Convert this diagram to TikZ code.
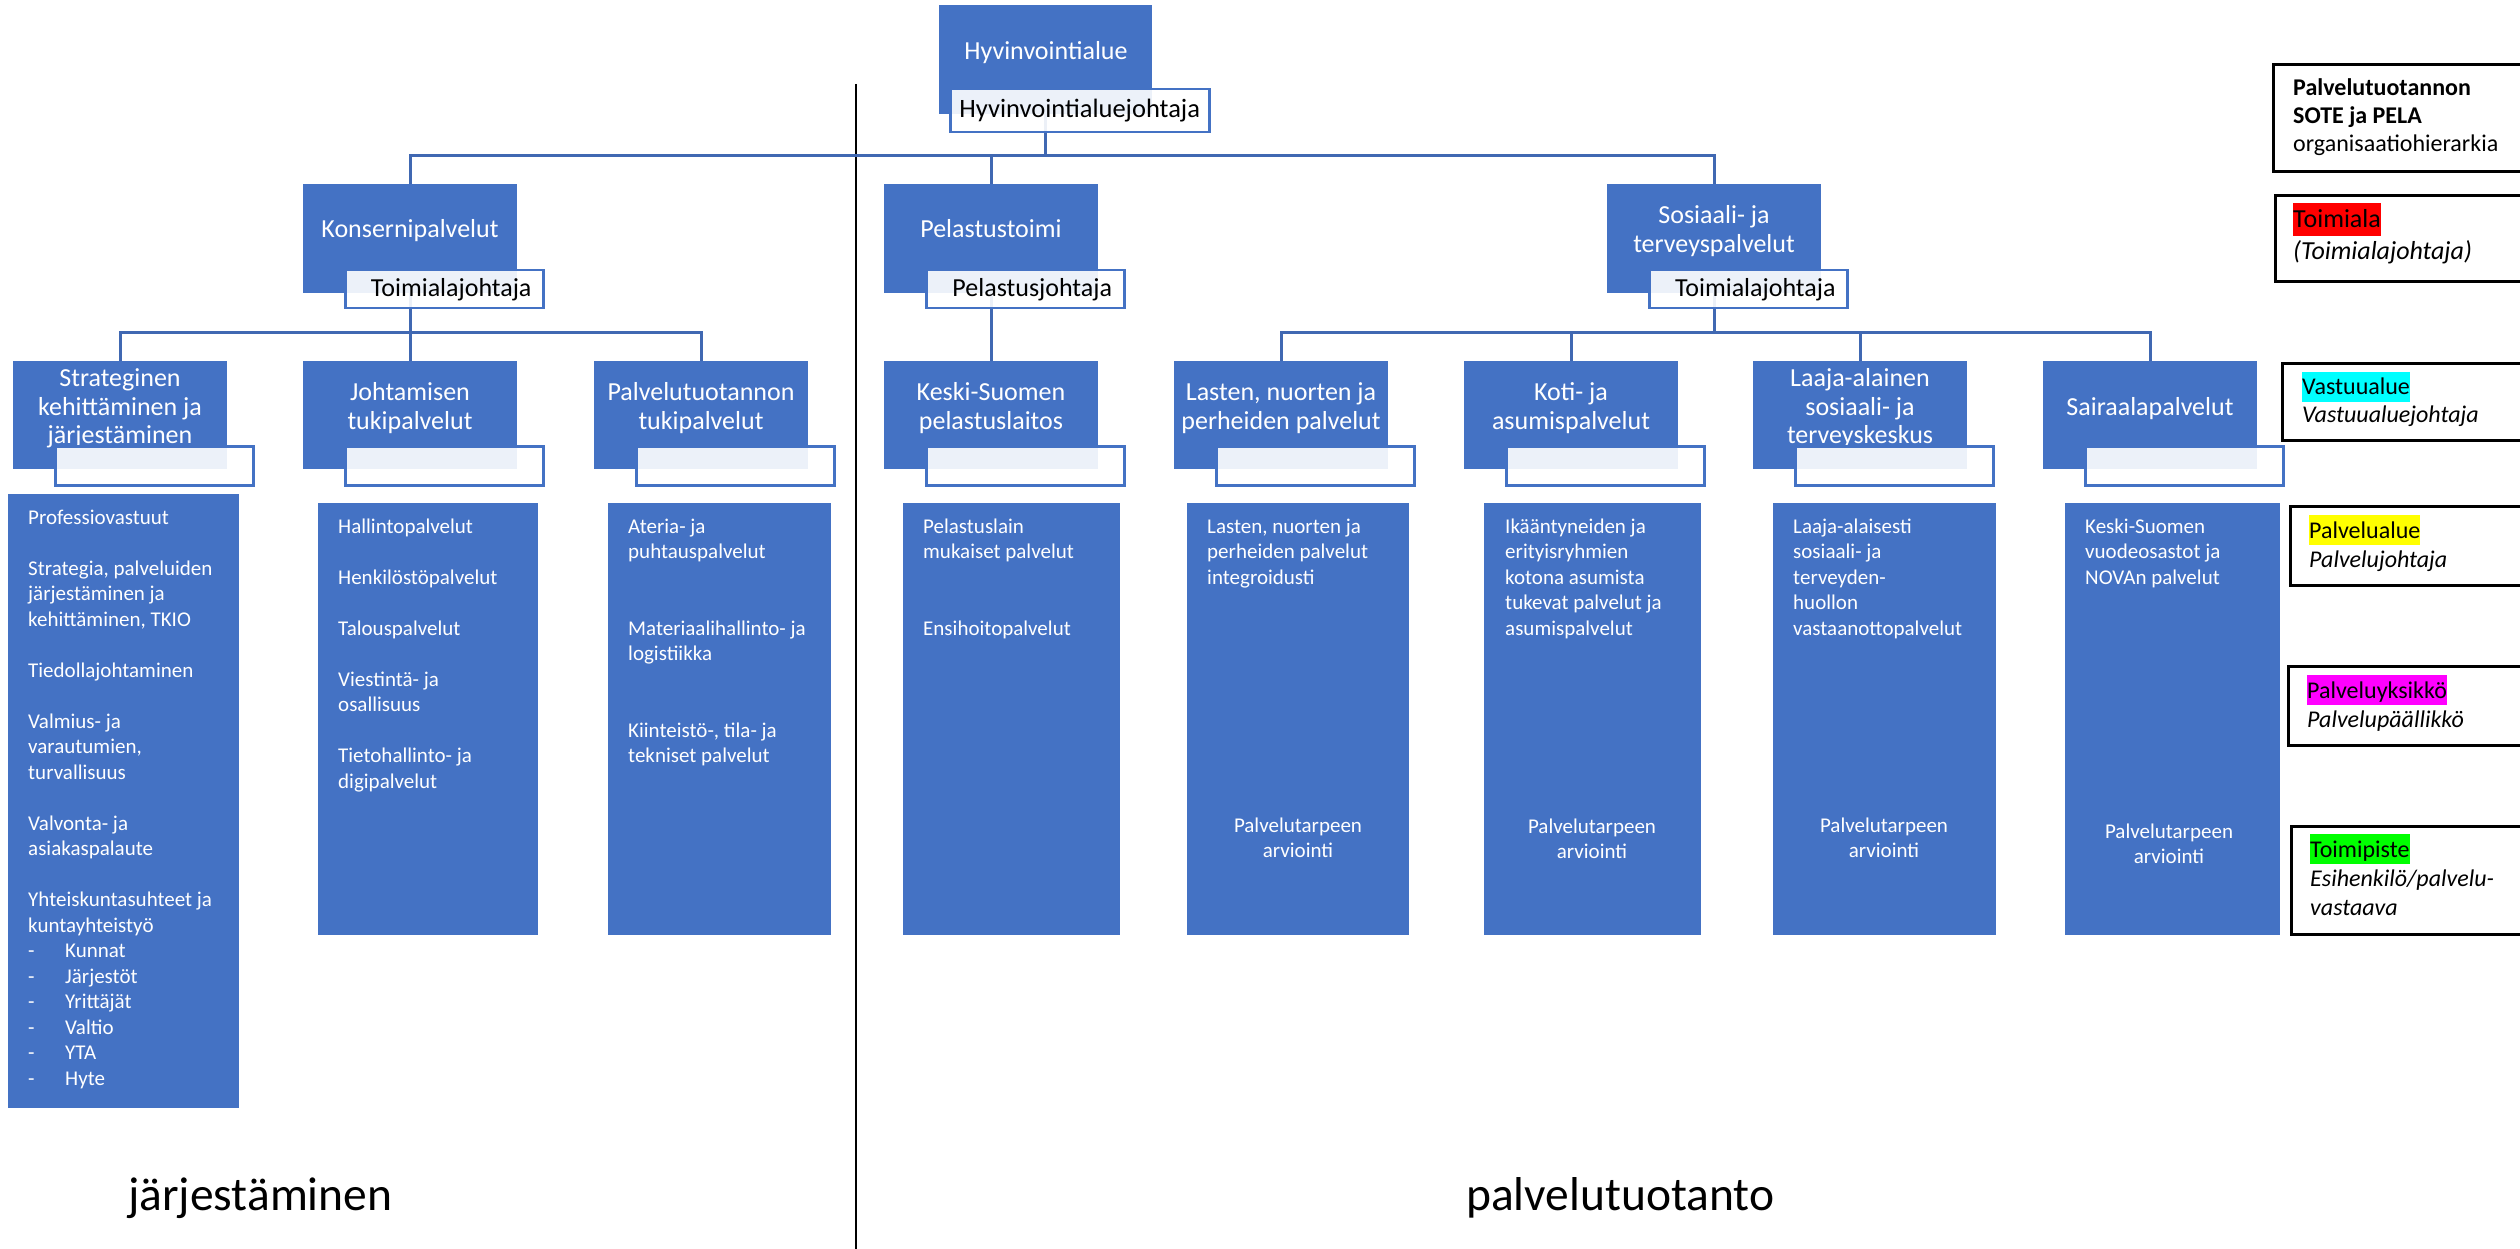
\documentclass[tikz,border=0pt]{standalone}
\usepackage{fontspec}
\setmainfont{Carlito}
\definecolor{boxblue}{RGB}{68,114,196}
\definecolor{connblue}{RGB}{64,104,178}
\definecolor{hlred}{RGB}{255,0,0}
\definecolor{hlcyan}{RGB}{0,255,255}
\definecolor{hlyellow}{RGB}{255,255,0}
\definecolor{hlmag}{RGB}{255,0,255}
\definecolor{hlgreen}{RGB}{0,255,0}
\pgfdeclarelayer{bg}
\pgfsetlayers{bg,main}
\newcommand\mlc[1]{\begin{tabular}[t]{@{}c@{}}#1\end{tabular}}
\newcommand\mll[1]{\begin{tabular}[t]{@{}l@{}}#1\end{tabular}}
\newcommand\hlt[2]{{\setlength{\fboxsep}{0pt}\colorbox{#1}{\rule[-0.29em]{0pt}{1.25em}#2}}}
\newcommand\dashitem[1]{\makebox[37pt][l]{-}#1}
\newcommand\fLv{\fontsize{26}{29}\selectfont}
\newcommand\fSub{\fontsize{26}{30}\selectfont}
\newcommand\fDet{\fontsize{21}{25.5}\selectfont}
\newcommand\fLeg{\fontsize{24}{28}\selectfont}
\newcommand\fLegB{\fontsize{24}{29}\selectfont}
\newcommand\fBig{\fontsize{47.5}{55}\selectfont}
\tikzset{
  lvbox/.style={rectangle, fill=boxblue, draw=none, inner sep=0pt, anchor=north west, minimum width=214pt, minimum height=108pt},
  subbox/.style={rectangle, draw=boxblue, line width=2.5pt, fill=white, fill opacity=0.9, text opacity=1, inner sep=0pt, anchor=north west, minimum width=198pt, minimum height=38pt, font=\fSub},
  lvtext/.style={anchor=base, text=white, inner sep=0pt, font=\fLv},
  dbox/.style={rectangle, fill=boxblue, draw=none, inner sep=0pt, anchor=north west},
  dtext/.style={anchor=base west, text=white, inner sep=0pt, font=\fDet},
  dctext/.style={anchor=base, text=white, inner sep=0pt, font=\fDet},
  legbox/.style={rectangle, draw=black, line width=3pt, inner sep=0pt, anchor=north west},
  legtext/.style={anchor=base west, inner sep=0pt, font=\fLeg},
  conn/.style={draw=connblue, line width=3pt},
  bigtext/.style={anchor=base west, inner sep=0pt, font=\fBig},
}
\begin{document}
\begin{tikzpicture}[x=1pt,y=-1pt]
\useasboundingbox (0,0) rectangle (2520,1249);

% ---------- top level
\node[lvbox, minimum height=109pt, minimum width=213pt] (hv) at (939,5) {};
\node[lvtext] (hvt) at (1046,60) {Hyvinvointialue};
\node[subbox, minimum width=259pt, minimum height=43pt, font=\fontsize{26.5}{30}\selectfont] (hvsub) at (949,88) {Hyvinvointialuejohtaja};

% ---------- level 2
\node[lvbox, minimum height=109pt] (kp) at (303,184) {};
\node[lvbox, minimum height=109pt] (pt) at (884,184) {};
\node[lvbox, minimum height=109pt] (st) at (1607,184) {};
\node[lvtext] (kpt) at (410,238) {Konsernipalvelut};
\node[lvtext] (ptt) at (991,238) {Pelastustoimi};
\node[lvtext] (stt) at (1714,223.5) {\mlc{Sosiaali- ja\\terveyspalvelut}};
\node[subbox] (kpsub) at (344,269) {\hspace*{14pt}Toimialajohtaja};
\node[subbox] (ptsub) at (925,269) {\hspace*{14pt}Pelastusjohtaja};
\node[subbox] (stsub) at (1648,269) {\hspace*{14pt}Toimialajohtaja};

% ---------- level 3
\node[lvbox] (s1) at (13,361) {};
\node[lvbox] (s2) at (303,361) {};
\node[lvbox] (s3) at (594,361) {};
\node[lvbox] (s4) at (884,361) {};
\node[lvbox] (s5) at (1174,361) {};
\node[lvbox] (s6) at (1464,361) {};
\node[lvbox] (s7) at (1753,361) {};
\node[lvbox] (s8) at (2043,361) {};
\node[lvtext] (s1t) at (120,386) {\mlc{Strateginen\\kehittäminen ja\\järjestäminen}};
\node[lvtext] (s2t) at (410,400.5) {\mlc{Johtamisen\\tukipalvelut}};
\node[lvtext] (s3t) at (701,400.5) {\mlc{Palvelutuotannon\\tukipalvelut}};
\node[lvtext] (s4t) at (991,400.5) {\mlc{Keski-Suomen\\pelastuslaitos}};
\node[lvtext] (s5t) at (1281,400.5) {\mlc{Lasten, nuorten ja\\perheiden palvelut}};
\node[lvtext] (s6t) at (1571,400.5) {\mlc{Koti- ja\\asumispalvelut}};
\node[lvtext] (s7t) at (1860,386) {\mlc{Laaja-alainen\\sosiaali- ja\\terveyskeskus}};
\node[lvtext] (s8t) at (2150,415) {Sairaalapalvelut};
\node[subbox, minimum height=39pt] (s1sub) at (54,445) {};
\node[subbox, minimum height=39pt] (s2sub) at (344,445) {};
\node[subbox, minimum height=39pt] (s3sub) at (635,445) {};
\node[subbox, minimum height=39pt] (s4sub) at (925,445) {};
\node[subbox, minimum height=39pt] (s5sub) at (1215,445) {};
\node[subbox, minimum height=39pt] (s6sub) at (1505,445) {};
\node[subbox, minimum height=39pt] (s7sub) at (1794,445) {};
\node[subbox, minimum height=39pt] (s8sub) at (2084,445) {};

% ---------- detail boxes
\node[dbox, minimum width=231pt, minimum height=614pt] (d1) at (8,494) {};
\node[dbox, minimum width=220pt, minimum height=432pt] (d2) at (318,503) {};
\node[dbox, minimum width=223pt, minimum height=432pt] (d3) at (608,503) {};
\node[dbox, minimum width=217pt, minimum height=432pt] (d4) at (903,503) {};
\node[dbox, minimum width=222pt, minimum height=432pt] (d5) at (1187,503) {};
\node[dbox, minimum width=217pt, minimum height=432pt] (d6) at (1484,503) {};
\node[dbox, minimum width=223pt, minimum height=432pt] (d7) at (1773,503) {};
\node[dbox, minimum width=215pt, minimum height=432pt] (d8) at (2065,503) {};

\node[dtext] (d1t) at (28,524) {\mll{Professiovastuut\\ \\Strategia, palveluiden\\järjestäminen ja\\kehittäminen, TKIO\\ \\Tiedollajohtaminen\\ \\Valmius- ja\\varautumien,\\turvallisuus\\ \\Valvonta- ja\\asiakaspalaute\\ \\Yhteiskuntasuhteet ja\\kuntayhteistyö\\\dashitem{Kunnat}\\\dashitem{Järjestöt}\\\dashitem{Yrittäjät}\\\dashitem{Valtio}\\\dashitem{YTA}\\\dashitem{Hyte}}};
\node[dtext] (d2t) at (338,533) {\mll{Hallintopalvelut\\ \\Henkilöstöpalvelut\\ \\Talouspalvelut\\ \\Viestintä- ja\\osallisuus\\ \\Tietohallinto- ja\\digipalvelut}};
\node[dtext] (d3t) at (628,533) {\mll{Ateria- ja\\puhtauspalvelut\\ \\ \\Materiaalihallinto- ja\\logistiikka\\ \\ \\Kiinteistö-, tila- ja\\tekniset palvelut}};
\node[dtext] (d4t) at (923,533) {\mll{Pelastuslain\\mukaiset palvelut\\ \\ \\Ensihoitopalvelut}};
\node[dtext] (d5t) at (1207,533) {\mll{Lasten, nuorten ja\\perheiden palvelut\\integroidusti}};
\node[dtext] (d6t) at (1505,533) {\mll{Ikääntyneiden ja\\erityisryhmien\\kotona asumista\\tukevat palvelut ja\\asumispalvelut}};
\node[dtext] (d7t) at (1793,533) {\mll{Laaja-alaisesti\\sosiaali- ja\\terveyden-\\huollon\\vastaanottopalvelut}};
\node[dtext] (d8t) at (2085,533) {\mll{Keski-Suomen\\vuodeosastot ja\\NOVAn palvelut}};
\node[dctext] (d5b) at (1298,832) {\mlc{Palvelutarpeen\\arviointi}};
\node[dctext] (d6b) at (1592,833) {\mlc{Palvelutarpeen\\arviointi}};
\node[dctext] (d7b) at (1884,832) {\mlc{Palvelutarpeen\\arviointi}};
\node[dctext] (d8b) at (2169,838) {\mlc{Palvelutarpeen\\arviointi}};

% ---------- legend
\node[legbox, minimum width=252pt, minimum height=107pt] (L1) at (2272,63) {};
\node[legbox, minimum width=250pt, minimum height=86pt] (L2) at (2274,194) {};
\node[legbox, minimum width=243pt, minimum height=77pt] (L3) at (2281,362) {};
\node[legbox, minimum width=235pt, minimum height=79pt] (L4) at (2289,505) {};
\node[legbox, minimum width=237pt, minimum height=79pt] (L5) at (2287,665) {};
\node[legbox, minimum width=234pt, minimum height=108pt] (L6) at (2290,825) {};
\node[legtext] (L1t) at (2293,96) {\mll{\textbf{Palvelutuotannon}\\\textbf{SOTE ja PELA}\\organisaatiohierarkia}};
\node[legtext, font=\fontsize{26}{32}\selectfont] (L2t) at (2293,228) {\mll{\hlt{hlred}{Toimiala}\\\textit{(Toimialajohtaja)}}};
\node[legtext] (L3t) at (2302,395) {\mll{\hlt{hlcyan}{Vastuualue}\\\textit{Vastuualuejohtaja}}};
\node[legtext, font=\fLegB] (L4t) at (2309,538) {\mll{\hlt{hlyellow}{Palvelualue}\\\textit{Palvelujohtaja}}};
\node[legtext, font=\fLegB] (L5t) at (2307,698) {\mll{\hlt{hlmag}{Palveluyksikkö}\\\textit{Palvelupäällikkö}}};
\node[legtext, font=\fLegB] (L6t) at (2310,857) {\mll{\hlt{hlgreen}{Toimipiste}\\\textit{Esihenkilö/palvelu-}\\\textit{vastaava}}};

% ---------- bottom labels
\node[bigtext] (lab1) at (128,1210) {järjestäminen};
\node[bigtext] (lab2) at (1466,1210) {palvelutuotanto};

% ---------- connectors and divider
\coordinate (bus1) at (0,156);
\coordinate (bus2) at (0,333);
\coordinate (divtop) at (856,84);
\coordinate (divbot) at (856,1249);
\begin{pgfonlayer}{bg}
  \draw[black, line width=1.8pt] (divtop) -- (divbot);
  \draw[conn] (hv.south) -- (hv.south |- bus1);
  \draw[conn] (kp.north) -- (kp.north |- bus1) -- (st.north |- bus1) -- (st.north);
  \draw[conn] (pt.north) -- (pt.north |- bus1);
  \draw[conn] (kp.south) -- (kp.south |- bus2);
  \draw[conn] (s1.north) -- (s1.north |- bus2) -- (s3.north |- bus2) -- (s3.north);
  \draw[conn] (s2.north) -- (s2.north |- bus2);
  \draw[conn] (pt.south) -- (s4.north);
  \draw[conn] (st.south) -- (st.south |- bus2);
  \draw[conn] (s5.north) -- (s5.north |- bus2) -- (s8.north |- bus2) -- (s8.north);
  \draw[conn] (s6.north) -- (s6.north |- bus2);
  \draw[conn] (s7.north) -- (s7.north |- bus2);
\end{pgfonlayer}
\end{tikzpicture}
\end{document}
